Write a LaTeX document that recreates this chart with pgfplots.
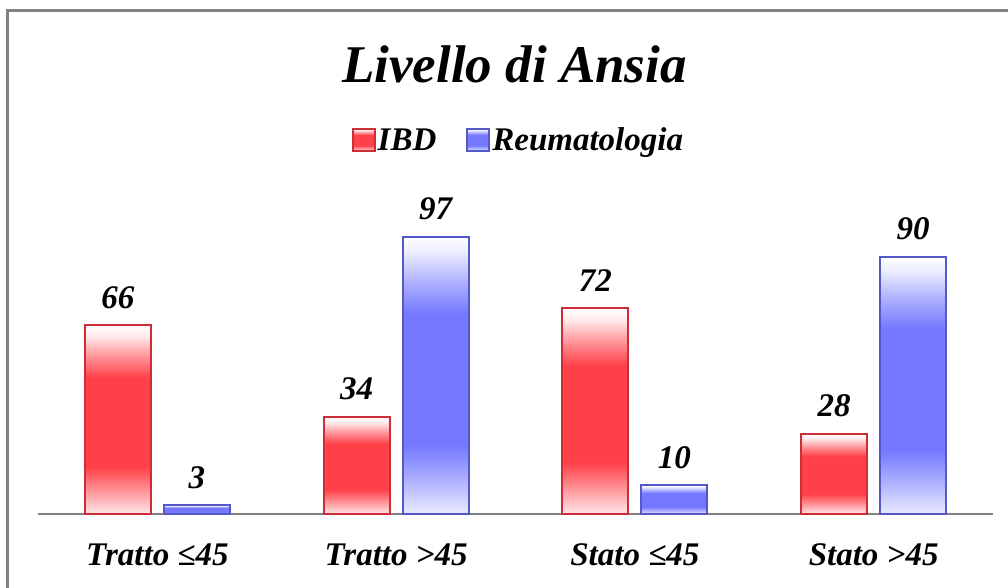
\documentclass[border=0pt]{standalone}
\usepackage{fontspec}
\setmainfont{Liberation Serif}
\usepackage{pgfplots}
\pgfplotsset{compat=1.18}
\usetikzlibrary{fadings}
\definecolor{rmain}{RGB}{255,64,72}
\definecolor{rmid}{RGB}{255,150,155}
\definecolor{rlight}{RGB}{255,232,234}
\definecolor{rdark}{RGB}{205,45,55}
\definecolor{bmain}{RGB}{115,120,255}
\definecolor{bmid}{RGB}{175,178,255}
\definecolor{blight}{RGB}{234,235,255}
\definecolor{bdark}{RGB}{85,88,200}
\definecolor{framegray}{RGB}{130,130,130}
\pgfdeclareverticalshading{redbar}{100bp}{color(0bp)=(rlight); color(25bp)=(rlight); color(31bp)=(rmid); color(37.5bp)=(rmain); color(61bp)=(rmain); color(67bp)=(rmid); color(72bp)=(rlight); color(75bp)=(white); color(100bp)=(white)}
\pgfdeclareverticalshading{bluebar}{100bp}{color(0bp)=(blight); color(25bp)=(blight); color(31bp)=(bmid); color(37.5bp)=(bmain); color(61bp)=(bmain); color(67bp)=(bmid); color(72bp)=(blight); color(75bp)=(white); color(100bp)=(white)}
\pgfdeclarehorizontalshading{sidefadeshade}{100bp}{color(0bp)=(transparent!20); color(21.5bp)=(transparent!20); color(27.2bp)=(transparent!60); color(35.7bp)=(transparent!100); color(64.3bp)=(transparent!100); color(72.8bp)=(transparent!60); color(78.5bp)=(transparent!20); color(100bp)=(transparent!20)}
\pgfdeclarefading{sidefade}{\pgfuseshading{sidefadeshade}}
\pgfplotsset{
  redb/.style={shade, shading=redbar, draw=rdark, line width=2pt, bar shift=-39.5pt,
    postaction={fill=white, path fading=sidefade},
    postaction={draw=rdark, line width=2pt}},
  blueb/.style={shade, shading=bluebar, draw=bdark, line width=2pt, bar shift=39.5pt,
    postaction={fill=white, path fading=sidefade},
    postaction={draw=bdark, line width=2pt}},
}
\begin{document}
\begin{tikzpicture}
\begin{axis}[
  at={(38pt,-514pt)}, anchor=south west,
  scale only axis, width=955pt, height=286pt,
  xmin=-0.5, xmax=3.5, ymin=0, ymax=100,
  ybar=13pt, bar width=66pt,
  axis y line=none, axis x line*=bottom,
  axis line style={-, draw=framegray, line width=2pt},
  xtick={0,1,2,3}, xticklabels={Tratto ≤45, Tratto >45, Stato ≤45, Stato >45},
  major tick length=0pt,
  xticklabel style={anchor=base, yshift=-51pt, font=\fontsize{33}{36}\selectfont\bfseries\itshape},
  /pgf/number format/assume math mode=true,
  nodes near coords,
  nodes near coords style={anchor=base, yshift=17pt, font=\fontsize{33}{36}\selectfont\bfseries\itshape, text=black},
  clip=false,
  legend columns=2,
  legend style={draw=none, fill=none, at={(0.503,1.3077)}, anchor=center,
    font=\fontsize{33}{36}\selectfont\bfseries\itshape,
    /tikz/every even column/.append style={column sep=28pt}},
  legend image code/.code={\draw[#1] (0pt,-11pt) rectangle (22pt,11pt);},
]
\addplot[redb] coordinates {(0,66)};
\addplot[blueb] coordinates {(0,3)};
\addplot[redb, forget plot] coordinates {(1,34)};
\addplot[redb, forget plot] coordinates {(2,72)};
\addplot[redb, forget plot] coordinates {(3,28)};
\addplot[blueb, forget plot] coordinates {(1,97)};
\addplot[blueb, forget plot] coordinates {(2,10)};
\addplot[blueb, forget plot] coordinates {(3,90)};
\legend{IBD, Reumatologia}
\end{axis}
\node[anchor=base, font=\fontsize{53}{60}\selectfont\bfseries\itshape] at (514.5pt,-82pt) {Livello di Ansia};
\draw[framegray, line width=3pt] (7pt,-600pt) -- (7pt,-10pt) -- (1020pt,-10pt);
\pgfresetboundingbox
\useasboundingbox (0,0) rectangle (1008pt,-587pt);
\end{tikzpicture}
\end{document}
